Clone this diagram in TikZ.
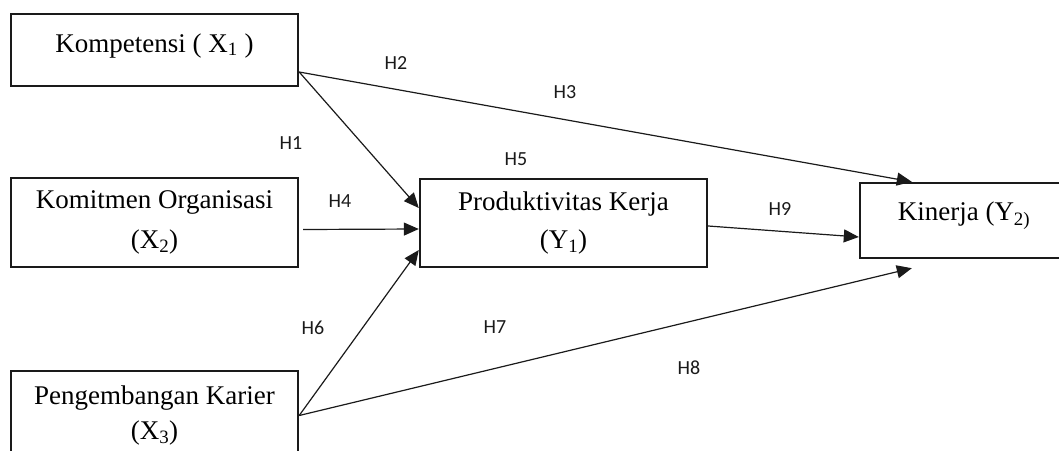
\documentclass[tikz,border=0pt]{standalone}
\usepackage{fontspec}
\usepackage{xcolor}
\usetikzlibrary{arrows.meta}
\setmainfont{Liberation Serif}
\newfontfamily\hfont{Carlito}
\definecolor{LineC}{HTML}{1A1A1A}

\begin{document}
\begin{tikzpicture}[x=1pt, y=-1pt,
    varbox/.style={draw=LineC, line width=2.4pt, rectangle, inner sep=0pt,
      minimum width=287pt, align=center, font=\fontsize{27}{40}\selectfont},
    hyp/.style={font=\hfont\fontsize{20}{24}\selectfont, text=LineC},
    path/.style={draw=LineC, line width=1.2pt, -{Triangle[length=15pt,width=13pt]}}]
    \useasboundingbox (0,0) rectangle (1059,450);
    % variables
    \node[varbox, minimum height=72pt, text height=20pt, text depth=16pt] (X1) at (154.5,50) {Kompetensi ( X\textsubscript{1} )};
    \node[varbox, minimum height=89pt] (X2) at (154.5,222.5) {Komitmen Organisasi\\(X\textsubscript{2})};
    \node[varbox, minimum height=89pt, font=\fontsize{27}{35}\selectfont] (X3) at (154.5,415.5) {Pengembangan Karier\\(X\textsubscript{3})};
    \node[varbox, minimum height=88pt, font=\fontsize{27}{38}\selectfont] (Y1) at (563.5,223) {Produktivitas Kerja\\(Y\textsubscript{1})};
    \node[varbox, minimum width=208pt, minimum height=75pt, text height=18pt, text depth=18pt] (Y2) at (964,220.5) {Kinerja (Y\textsubscript{2)}};
    % paths
    \draw[path] ([yshift=-22pt]X1.east) -- ([yshift=15pt]Y1.west);
    \draw[path] ([yshift=-22pt]X1.east) -- ([xshift=53pt]Y2.north west);
    \draw[path] ([xshift=4pt,yshift=-7pt]X2.east) -- ([yshift=-6pt]Y1.west);
    \draw[path] (X3.east) -- ([yshift=-27pt]Y1.west);
    \draw[path] (X3.east) -- ([xshift=53pt,yshift=-9pt]Y2.south west);
    \draw[path] ([yshift=-3pt]Y1.east) -- ([yshift=-16.5pt]Y2.west);
    % hypothesis labels
    \node[hyp] (h1) at (291,143) {H1};
    \node[hyp] (h2) at (396,63) {H2};
    \node[hyp] (h3) at (565,92) {H3};
    \node[hyp] (h4) at (340,201) {H4};
    \node[hyp] (h5) at (516,159) {H5};
    \node[hyp] (h6) at (313,328) {H6};
    \node[hyp] (h7) at (495,327) {H7};
    \node[hyp] (h8) at (689,368) {H8};
    \node[hyp] (h9) at (780,209) {H9};
\end{tikzpicture}
\end{document}
